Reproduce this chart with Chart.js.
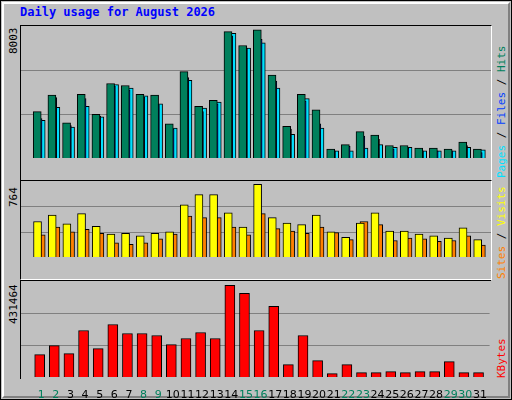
<!DOCTYPE html>
<html><head><meta charset="utf-8">
<script src="https://cdn.jsdelivr.net/npm/chart.js@4/dist/chart.umd.min.js"></script>
<style>
body{margin:0;background:#fff}
#frame{position:absolute;left:0;top:0;width:510px;height:398px;background:#c0c0c0;border:1px solid #000}
#bevel{position:absolute;left:1px;top:1px;width:504px;height:392px;border:2px solid;border-color:#fff #808080 #808080 #fff}
.panel{position:absolute;left:19px;width:470px;border:1px solid;border-color:#000 #fff #fff #000}
canvas{position:absolute;left:0;top:0}
.t{position:absolute;font-family:"DejaVu Sans Mono",monospace;white-space:nowrap}
.rot{transform-origin:0 0;transform:rotate(-90deg)}
</style></head><body>
<div id="frame"><div id="bevel"></div>
<div class="t" style="left:19px;top:4px;font-size:12px;font-weight:bold;color:#0000ff">Daily usage for August 2026</div>
<div class="panel" style="top:24px;height:154px"><canvas id="c1" width="470" height="154"></canvas></div>
<div class="panel" style="top:179px;height:98px"><canvas id="c2" width="470" height="98"></canvas></div>
<div class="panel" style="top:279px;height:98px;border-bottom:none;border-right:none"></div>
<canvas id="c3" width="470" height="118" style="left:20px;top:280px"></canvas>
<div class="t rot" style="left:6px;top:53px;font-size:11px;color:#000">8003</div>
<div class="t rot" style="left:6px;top:206px;font-size:11px;color:#000">764</div>
<div class="t rot" style="left:6px;top:323px;font-size:11px;color:#000">431464</div>
<div class="t rot" style="left:494px;top:177px;font-size:11px"><span style="color:#00e0ff">Pages</span><span style="color:#000"> / </span><span style="color:#0040ff">Files</span><span style="color:#000"> / </span><span style="color:#00805c">Hits</span></div>
<div class="t rot" style="left:494px;top:278px;font-size:11px"><span style="color:#ff8000">Sites</span><span style="color:#000"> / </span><span style="color:#ffff00">Visits</span></div>
<div class="t rot" style="left:494px;top:377px;font-size:11px;color:#ff0000">KBytes</div>
</div>
<script>
var days = []
for (var i = 1; i <= 31; i++) days.push(i)
var weekend = [1,2,8,9,15,16,22,23,29,30]

var hits   = [2897,3929,2191,3983,2734,4653,4527,3983,3929,2137,5396,3223,3603,7894,7025,8003,5178,1974,3983,3006,561,833,1648,1430,779,779,616,616,561,996,561]
var files  = [2462,3766,2028,3712,2625,4472,4255,3820,3332,1811,5015,2897,3386,7623,6862,7405,4798,1811,3549,2137,453,724,1376,1159,561,616,453,453,453,779,344]
var pages  = [2354,3169,1937,3223,2571,4581,4364,3875,3386,1865,4852,3114,3495,7786,6862,7188,4364,1485,3712,1865,453,453,616,833,670,670,453,453,453,670,507]
var visits = [374,440,349,457,324,241,249,224,249,266,548,656,656,465,316,764,415,357,340,440,266,208,357,465,274,274,241,224,199,307,183]
var sites  = [233,316,266,291,249,149,133,149,191,241,432,415,415,316,233,457,299,274,249,316,257,183,374,340,174,199,191,166,174,224,125]
var kbytes = [105504,148022,110229,218883,133850,247228,204711,204711,195263,152746,181091,209435,181091,431464,393675,218883,332256,58264,195263,77160,15747,58264,20471,20471,25195,20471,25195,25195,72436,20471,20471]

function pts(vals, shift){
    return vals.map(function(v, i){ return {x: days[i] + shift, y: v} })
}
function ds(vals, shift, color, w){
    return {data: pts(vals, shift), backgroundColor: color, borderColor: '#000',
            borderWidth: 1, barThickness: w, borderSkipped: 'bottom', grouped: false}
}

// grid lines at 1/3 and 2/3 of each panel
var thirds = {
    id: 'thirds',
    beforeDatasetsDraw: function(chart){
        var y = chart.scales.y, a = chart.chartArea, ctx = chart.ctx
        ctx.save()
        ctx.strokeStyle = '#808080'
        ctx.lineWidth = 1
        ;[1/3, 2/3].forEach(function(f){
            var py = Math.round(y.getPixelForValue(y.max*f)) + 0.5
            ctx.beginPath(); ctx.moveTo(a.left, py); ctx.lineTo(a.right, py); ctx.stroke()
        })
        ctx.restore()
    }
}

function make_chart(id, sets, ymax, show_x){
    new Chart(document.getElementById(id), {
        type: 'bar',
        data: {datasets: sets},
        plugins: [thirds],
        options: {
            responsive: false, animation: false, devicePixelRatio: 1,
            layout: {padding: 0},
            plugins: {legend: {display: false}, tooltip: {enabled: false}},
            scales: {
                x: {type: 'linear', min: 0.14, max: 31.14, display: show_x,
                    grid: {display: false}, border: {display: false},
                    afterBuildTicks: function(s){ s.ticks = days.map(function(d){ return {value: d} }) },
                    afterFit: function(s){ s.height = 22 },
                    ticks: {autoSkip: false, maxRotation: 0, padding: 4,
                        font: {family: 'DejaVu Sans', size: 11},
                        color: function(c){ return weekend.indexOf(c.tick.value) >= 0 ? '#00805c' : '#000' }}},
                y: {min: 0, max: ymax, display: false}
            }
        }
    })
}

make_chart('c1', [ds(hits, -0.27, '#00805c', 8), ds(files, -0.18, '#0040ff', 7), ds(pages, 0, '#00e0ff', 8)], 8242, false)
make_chart('c2', [ds(visits, -0.25, '#ffff00', 8), ds(sites, 0, '#ff8000', 8)], 800, false)
make_chart('c3', [ds(kbytes, -0.1, '#ff0000', 10)], 452000, true)
</script>
</body></html>
